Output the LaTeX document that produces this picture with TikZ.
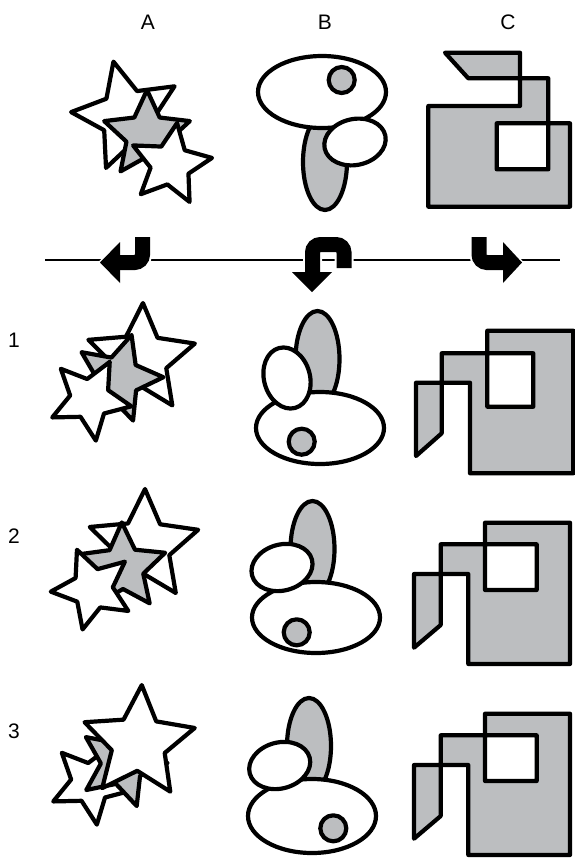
\documentclass[tikz,border=0pt]{standalone}
\usepackage{fontspec}
\setmainfont{Liberation Sans}
\definecolor{figgray}{RGB}{188,190,192}

\newcommand{\fivestar}[4]{%
  \filldraw[figline, fill=#4, shift={(#1)}] ({#3}:{#2})
    \foreach \k in {1,...,4} { -- ({#3+72*\k-36}:{0.48*#2}) -- ({#3+72*\k}:{#2}) }
    -- ({#3-36}:{0.48*#2}) -- cycle;
}

\begin{document}
\begin{tikzpicture}[x=1pt, y=-1pt,
    figline/.style={line width=4.2pt, line join=round},
    tag/.style={font=\fontsize{21}{25}\selectfont},
    turnbar/.style={line width=15pt, rounded corners=8pt},
    turnhalo/.style={white, line width=19pt, rounded corners=8pt}]
    \fill[white] (0,0) rectangle (575,860);
    \useasboundingbox (0,0) rectangle (575,860);

    \node[tag] (colA) at (148,22) {A};
    \node[tag] (colB) at (325,22) {B};
    \node[tag] (colC) at (508,22) {C};
    \node[tag] (row1) at (14,340) {1};
    \node[tag] (row2) at (14,536) {2};
    \node[tag] (row3) at (14,731) {3};

    \coordinate (axisL) at (45,260);
    \coordinate (axisR) at (560,260);
    \draw[line width=1.2pt] (axisL) -- (axisR);

    \coordinate (a1) at (142.5,237);
    \coordinate (a2) at (142.5,262.5);
    \coordinate (a3) at (120,262.5);
    \coordinate (b1) at (312.5,272);
    \coordinate (b2) at (312.5,244.5);
    \coordinate (b3) at (344,244.5);
    \coordinate (b4) at (344,268);
    \coordinate (c1) at (479,237);
    \coordinate (c2) at (479,262.5);
    \coordinate (c3) at (503,262.5);

    \draw[turnhalo] (a1) -- (a2) -- (a3);
    \draw[turnhalo] (b1) -- (b2) -- (b3) -- (b4);
    \draw[turnhalo] (c1) -- (c2) -- (c3);
    \filldraw[white, line width=3pt] (120,242) -- (100,262.5) -- (120,283) -- cycle;
    \filldraw[white, line width=3pt] (292,272) -- (332,272) -- (312,292) -- cycle;
    \filldraw[white, line width=3pt] (503,242) -- (522,262.5) -- (503,283) -- cycle;
    \draw[turnbar] (a1) -- (a2) -- (a3);
    \draw[turnbar] (b1) -- (b2) -- (b3) -- (b4);
    \draw[turnbar] (c1) -- (c2) -- (c3);
    \fill (120,242) -- (100,262.5) -- (120,283) -- cycle;
    \fill (292,272) -- (332,272) -- (312,292) -- cycle;
    \fill (503,242) -- (522,262.5) -- (503,283) -- cycle;

    \fivestar{127,116}{56}{-104}{white}
    \fivestar{147,135}{45}{-90}{figgray}
    \fivestar{170.5,164.5}{42}{-81}{white}

    \fivestar{141,359}{56}{-88}{white}
    \fivestar{118.4,378}{45}{-73}{figgray}
    \fivestar{90,399}{42}{10}{white}

    \fivestar{143.5,546}{57}{-88.5}{white}
    \fivestar{122.6,567.4}{45}{-91}{figgray}
    \fivestar{92.7,588.7}{42}{32}{white}

    \fivestar{91,783}{42}{10}{white}
    \fivestar{122.5,763.3}{45}{-72.4}{figgray}
    \fivestar{138.7,743}{58}{-87}{white}

    \filldraw[figline, fill=figgray] (325,162) ellipse (22 and 48);
    \filldraw[figline, fill=white] (322,92) ellipse (64 and 36);
    \filldraw[figline, fill=figgray] (341.7,80) circle (13);
    \filldraw[figline, fill=white, rotate around={12:(355,142)}] (355,142) ellipse (31 and 23);

    \filldraw[figline, fill=figgray] (317.5,359) ellipse (22 and 48);
    \filldraw[figline, fill=white] (320,428) ellipse (64 and 36);
    \filldraw[figline, fill=figgray] (301.7,441.7) circle (13);
    \filldraw[figline, fill=white, rotate around={15:(287,378)}] (287,378) ellipse (23 and 31);

    \filldraw[figline, fill=figgray] (312.5,549) ellipse (22 and 48);
    \filldraw[figline, fill=white] (316,617.5) ellipse (64 and 35.5);
    \filldraw[figline, fill=figgray] (296.7,632.3) circle (13);
    \filldraw[figline, fill=white, rotate around={15:(282,567.5)}] (282,567.5) ellipse (31 and 23);

    \filldraw[figline, fill=figgray] (309,746) ellipse (22 and 48);
    \filldraw[figline, fill=white] (312,816) ellipse (64 and 37);
    \filldraw[figline, fill=figgray] (333.3,828.3) circle (13);
    \filldraw[figline, fill=white, rotate around={15:(279.7,765.5)}] (279.7,765.5) ellipse (31 and 23);

    \filldraw[figline, fill=figgray, even odd rule] (445,52.7) -- (520,52.7) -- (520,106) -- (428.3,106)
        -- (428.3,206.7) -- (570,206.7) -- (570,123.3) -- (496.7,123.3) -- (496.7,169.3)
        -- (548.3,169.3) -- (548.3,78.3) -- (468.3,78.3) -- cycle;
    \filldraw[figline, fill=figgray, even odd rule] (416,382.7) -- (416,456) -- (441.7,433.3) -- (441.7,353.3)
        -- (533.3,353.3) -- (533.3,406.7) -- (487.3,406.7) -- (487.3,330.7) -- (573.3,330.7)
        -- (573.3,473.3) -- (470,473.3) -- (470,382.7) -- cycle;
    \filldraw[figline, fill=figgray, even odd rule] (414,574) -- (414,647.7) -- (440.7,625) -- (440.7,544.3)
        -- (536.7,544.3) -- (536.7,590) -- (485,590) -- (485,522.7) -- (570,522.7)
        -- (570,664) -- (468.3,664) -- (468.3,574) -- cycle;
    \filldraw[figline, fill=figgray, even odd rule] (414,765) -- (414,838.7) -- (440.7,816) -- (440.7,735.3)
        -- (536.7,735.3) -- (536.7,781) -- (485,781) -- (485,713.7) -- (570,713.7)
        -- (570,855) -- (468.3,855) -- (468.3,765) -- cycle;
\end{tikzpicture}
\end{document}
